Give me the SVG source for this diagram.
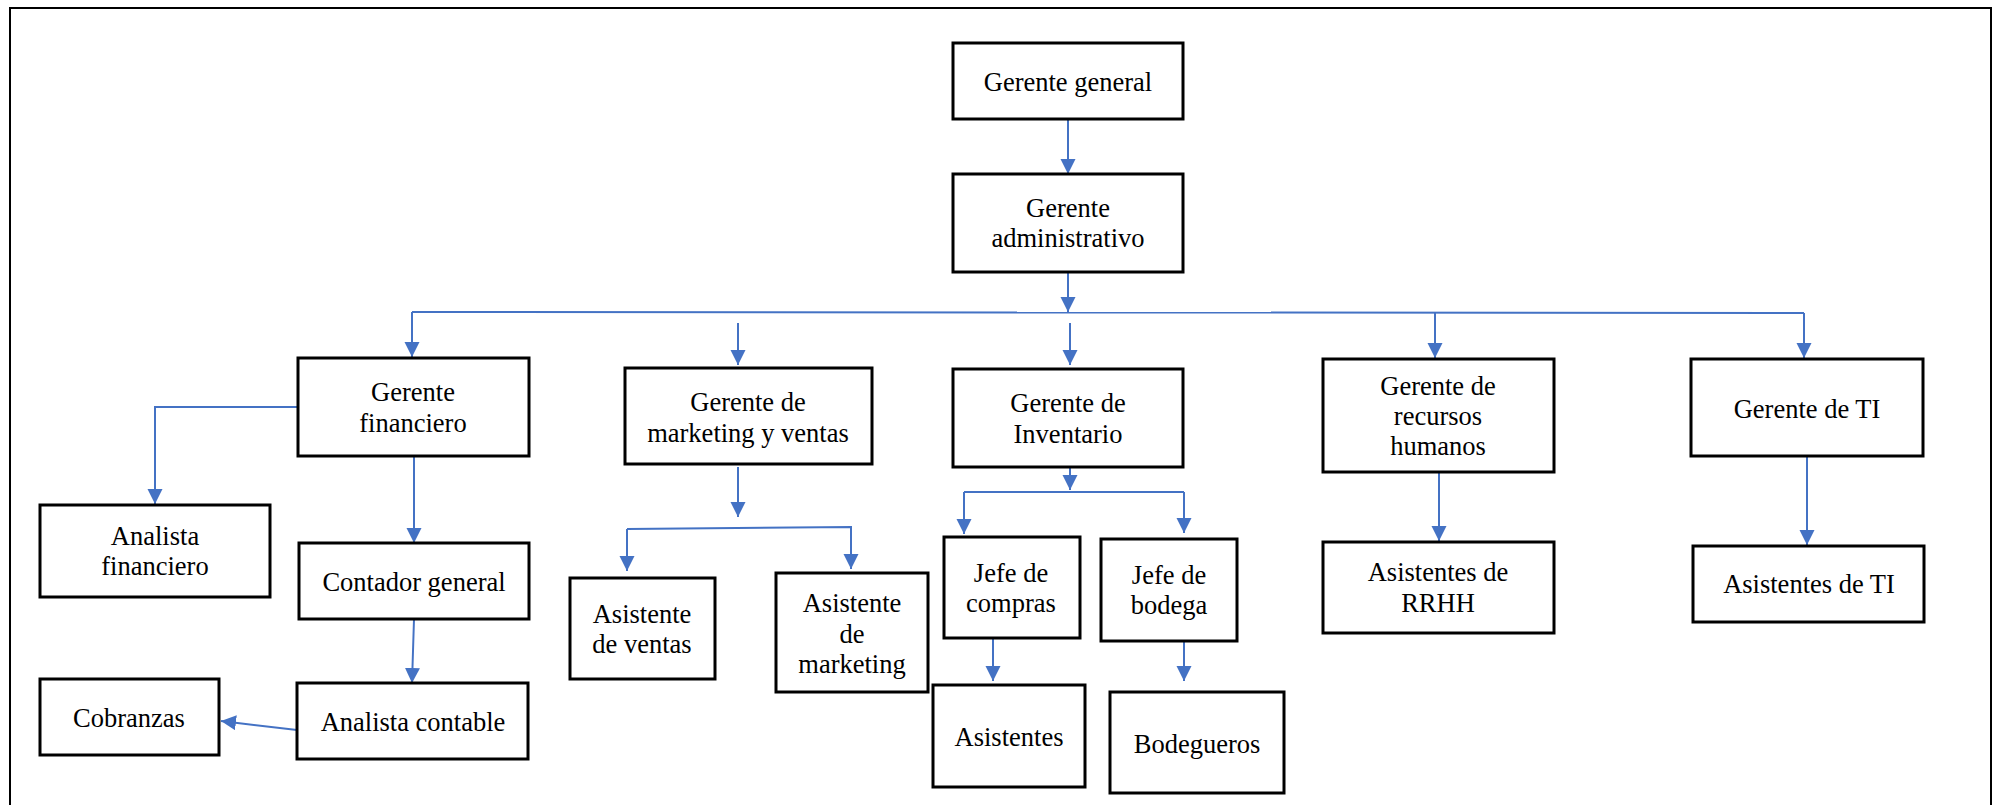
<svg xmlns="http://www.w3.org/2000/svg" width="1996" height="805" viewBox="0 0 1996 805">
<style>
.box{fill:#fff;stroke:#000;stroke-width:3}
.lbl{font-family:'Liberation Serif','Times New Roman',serif !important;font-size:26.5px;fill:#000;text-anchor:middle}
.c{fill:none;stroke:#4472C4;stroke-width:2}
</style>
<defs>
<marker id="ah" markerUnits="userSpaceOnUse" markerWidth="16" markerHeight="16" refX="15" refY="7.5" orient="auto">
<path d="M0,0 L15,7.5 L0,15 z" fill="#4472C4"/>
</marker>
</defs>
<rect x="0" y="0" width="1996" height="805" fill="#fff"/>
<rect x="10" y="8" width="1981" height="830" fill="none" stroke="#000" stroke-width="2"/>

<g id="connectors">
<path class="c" d="M1068,119 L1068,174" marker-end="url(#ah)"/>
<path class="c" d="M1068,272 L1068,312" marker-end="url(#ah)"/>
<path class="c" d="M412,312 L1804,313"/>
<path class="c" d="M412,312 L412,357" marker-end="url(#ah)"/>
<path class="c" d="M1435,313 L1435,358" marker-end="url(#ah)"/>
<path class="c" d="M1804,313 L1804,358" marker-end="url(#ah)"/>
<path class="c" d="M738,323 L738,365" marker-end="url(#ah)"/>
<path class="c" d="M1070,323 L1070,365" marker-end="url(#ah)"/>
<path class="c" d="M298,407 L155,407 L155,504" marker-end="url(#ah)"/>
<path class="c" d="M414,456 L414,543" marker-end="url(#ah)"/>
<path class="c" d="M414,619 L412,683" marker-end="url(#ah)"/>
<path class="c" d="M297,730 L221,721" marker-end="url(#ah)"/>
<path class="c" d="M738,467 L738,517" marker-end="url(#ah)"/>
<path class="c" d="M627,529 L627,571" marker-end="url(#ah)"/>
<path class="c" d="M627,529 L851,527 L851,569" marker-end="url(#ah)"/>
<path class="c" d="M1070,467 L1070,490" marker-end="url(#ah)"/>
<path class="c" d="M964,492 L1184,492"/>
<path class="c" d="M964,492 L964,534" marker-end="url(#ah)"/>
<path class="c" d="M1184,492 L1184,533" marker-end="url(#ah)"/>
<path class="c" d="M993,638 L993,681" marker-end="url(#ah)"/>
<path class="c" d="M1184,641 L1184,681" marker-end="url(#ah)"/>
<path class="c" d="M1439,472 L1439,541" marker-end="url(#ah)"/>
<path class="c" d="M1807,456 L1807,545" marker-end="url(#ah)"/>
</g>

<g id="nodes">
<g id="n-gerente-general"><rect class="box" x="953" y="43" width="230" height="76"/><text class="lbl" font-family="Liberation Serif" x="1068" y="91">Gerente general</text></g>
<g id="n-gerente-administrativo"><rect class="box" x="953" y="174" width="230" height="98"/><text class="lbl" font-family="Liberation Serif" x="1068" y="217">Gerente</text><text class="lbl" font-family="Liberation Serif" x="1068" y="247">administrativo</text></g>

<g id="n-gerente-financiero"><rect class="box" x="298" y="358" width="231" height="98"/><text class="lbl" font-family="Liberation Serif" x="413" y="401">Gerente</text><text class="lbl" font-family="Liberation Serif" x="413" y="432">financiero</text></g>
<g id="n-gerente-marketing"><rect class="box" x="625" y="368" width="247" height="96"/><text class="lbl" font-family="Liberation Serif" x="748" y="411">Gerente de</text><text class="lbl" font-family="Liberation Serif" x="748" y="442">marketing y ventas</text></g>
<g id="n-gerente-inventario"><rect class="box" x="953" y="369" width="230" height="98"/><text class="lbl" font-family="Liberation Serif" x="1068" y="412">Gerente de</text><text class="lbl" font-family="Liberation Serif" x="1068" y="443">Inventario</text></g>
<g id="n-gerente-rrhh"><rect class="box" x="1323" y="359" width="231" height="113"/><text class="lbl" font-family="Liberation Serif" x="1438" y="395">Gerente de</text><text class="lbl" font-family="Liberation Serif" x="1438" y="425">recursos</text><text class="lbl" font-family="Liberation Serif" x="1438" y="455">humanos</text></g>
<g id="n-gerente-ti"><rect class="box" x="1691" y="359" width="232" height="97"/><text class="lbl" font-family="Liberation Serif" x="1807" y="418">Gerente de TI</text></g>

<g id="n-analista-financiero"><rect class="box" x="40" y="505" width="230" height="92"/><text class="lbl" font-family="Liberation Serif" x="155" y="545">Analista</text><text class="lbl" font-family="Liberation Serif" x="155" y="575">financiero</text></g>
<g id="n-contador-general"><rect class="box" x="299" y="543" width="230" height="76"/><text class="lbl" font-family="Liberation Serif" x="414" y="591">Contador general</text></g>
<g id="n-analista-contable"><rect class="box" x="297" y="683" width="231" height="76"/><text class="lbl" font-family="Liberation Serif" x="413" y="731">Analista contable</text></g>
<g id="n-cobranzas"><rect class="box" x="40" y="679" width="179" height="76"/><text class="lbl" font-family="Liberation Serif" x="129" y="727">Cobranzas</text></g>

<g id="n-asistente-ventas"><rect class="box" x="570" y="578" width="145" height="101"/><text class="lbl" font-family="Liberation Serif" x="642" y="623">Asistente</text><text class="lbl" font-family="Liberation Serif" x="642" y="653">de ventas</text></g>
<g id="n-asistente-marketing"><rect class="box" x="776" y="573" width="152" height="119"/><text class="lbl" font-family="Liberation Serif" x="852" y="612">Asistente</text><text class="lbl" font-family="Liberation Serif" x="852" y="643">de</text><text class="lbl" font-family="Liberation Serif" x="852" y="673">marketing</text></g>

<g id="n-jefe-compras"><rect class="box" x="944" y="537" width="136" height="101"/><text class="lbl" font-family="Liberation Serif" x="1011" y="582">Jefe de</text><text class="lbl" font-family="Liberation Serif" x="1011" y="612">compras</text></g>
<g id="n-jefe-bodega"><rect class="box" x="1101" y="539" width="136" height="102"/><text class="lbl" font-family="Liberation Serif" x="1169" y="584">Jefe de</text><text class="lbl" font-family="Liberation Serif" x="1169" y="614">bodega</text></g>
<g id="n-asistentes"><rect class="box" x="933" y="685" width="152" height="102"/><text class="lbl" font-family="Liberation Serif" x="1009" y="746">Asistentes</text></g>
<g id="n-bodegueros"><rect class="box" x="1110" y="692" width="174" height="101"/><text class="lbl" font-family="Liberation Serif" x="1197" y="753">Bodegueros</text></g>

<g id="n-asistentes-rrhh"><rect class="box" x="1323" y="542" width="231" height="91"/><text class="lbl" font-family="Liberation Serif" x="1438" y="581">Asistentes de</text><text class="lbl" font-family="Liberation Serif" x="1438" y="612">RRHH</text></g>
<g id="n-asistentes-ti"><rect class="box" x="1693" y="546" width="231" height="76"/><text class="lbl" font-family="Liberation Serif" x="1809" y="593">Asistentes de TI</text></g>
</g>
</svg>
